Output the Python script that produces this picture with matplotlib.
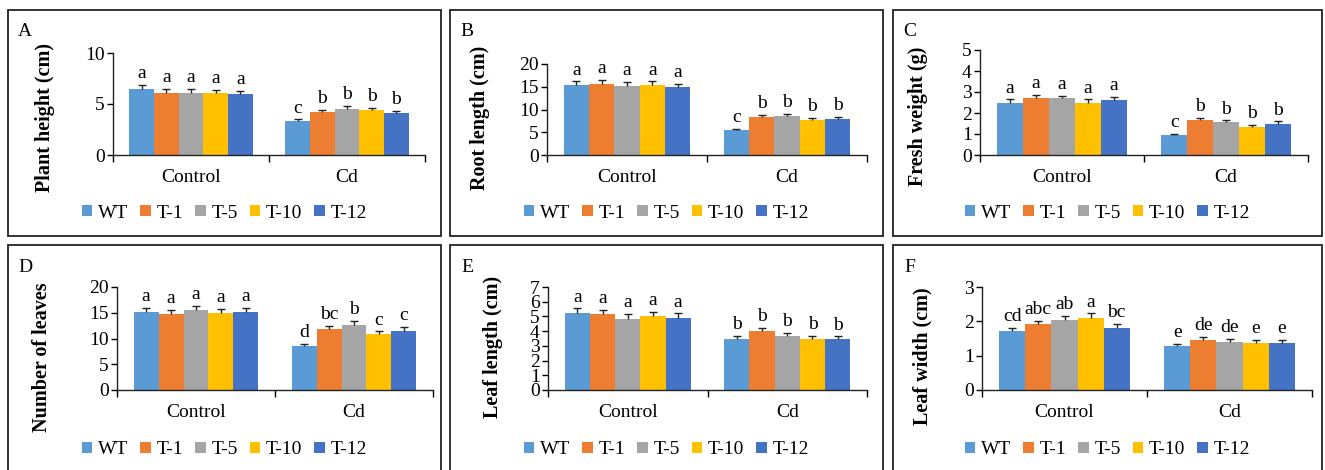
import matplotlib
matplotlib.use("Agg")
import matplotlib.pyplot as plt
from matplotlib.patches import Rectangle

plt.rcParams['font.family'] = ['Liberation Serif', 'DejaVu Serif']

W, H = 1325, 470

groups = ['Control', 'Cd']
lines = ['WT', 'T-1', 'T-5', 'T-10', 'T-12']
colors = ['#5B9BD5', '#ED7D31', '#A5A5A5', '#FFC000', '#4472C4']

# panel A - plant height
height_ctrl = [6.5, 6.1, 6.1, 6.05, 5.95]
height_cd = [3.3, 4.2, 4.5, 4.4, 4.1]
height_err_ctrl = [0.4, 0.35, 0.4, 0.35, 0.35]
height_err_cd = [0.2, 0.2, 0.3, 0.2, 0.2]
height_let_ctrl = ['a', 'a', 'a', 'a', 'a']
height_let_cd = ['c', 'b', 'b', 'b', 'b']

# panel B - root length
root_ctrl = [15.3, 15.6, 15.1, 15.4, 14.9]
root_cd = [5.4, 8.3, 8.6, 7.7, 7.9]
root_err_ctrl = [0.9, 0.9, 0.9, 0.8, 0.8]
root_err_cd = [0.3, 0.5, 0.5, 0.4, 0.5]
root_let_ctrl = ['a', 'a', 'a', 'a', 'a']
root_let_cd = ['c', 'b', 'b', 'b', 'b']

# panel C - fresh weight
fw_ctrl = [2.5, 2.7, 2.7, 2.5, 2.6]
fw_cd = [0.95, 1.65, 1.55, 1.35, 1.5]
fw_err_ctrl = [0.15, 0.15, 0.13, 0.15, 0.15]
fw_err_cd = [0.05, 0.12, 0.1, 0.08, 0.1]
fw_let_ctrl = ['a', 'a', 'a', 'a', 'a']
fw_let_cd = ['c', 'b', 'b', 'b', 'b']

# panel D - number of leaves
leaves_ctrl = [15.1, 14.8, 15.5, 14.9, 15.1]
leaves_cd = [8.5, 11.8, 12.7, 10.8, 11.5]
leaves_err_ctrl = [0.8, 0.8, 0.8, 0.8, 0.8]
leaves_err_cd = [0.5, 0.6, 0.7, 0.6, 0.7]
leaves_let_ctrl = ['a', 'a', 'a', 'a', 'a']
leaves_let_cd = ['d', 'bc', 'b', 'c', 'c']

# panel E - leaf length
ll_ctrl = [5.25, 5.15, 4.85, 5.0, 4.9]
ll_cd = [3.5, 4.0, 3.65, 3.5, 3.45]
ll_err_ctrl = [0.3, 0.28, 0.3, 0.3, 0.3]
ll_err_cd = [0.2, 0.22, 0.22, 0.2, 0.2]
ll_let_ctrl = ['a', 'a', 'a', 'a', 'a']
ll_let_cd = ['b', 'b', 'b', 'b', 'b']

# panel F - leaf width
lw_ctrl = [1.71, 1.92, 2.04, 2.11, 1.82]
lw_cd = [1.27, 1.47, 1.40, 1.37, 1.38]
lw_err_ctrl = [0.1, 0.1, 0.12, 0.12, 0.1]
lw_err_cd = [0.08, 0.08, 0.1, 0.08, 0.08]
lw_let_ctrl = ['cd', 'abc', 'ab', 'a', 'bc']
lw_let_cd = ['e', 'de', 'de', 'e', 'e']

panels = [
    ('A', 'Plant height (cm)', height_ctrl, height_cd, height_err_ctrl, height_err_cd,
     height_let_ctrl, height_let_cd, 10, 5),
    ('B', 'Root length (cm)', root_ctrl, root_cd, root_err_ctrl, root_err_cd,
     root_let_ctrl, root_let_cd, 20, 5),
    ('C', 'Fresh weight (g)', fw_ctrl, fw_cd, fw_err_ctrl, fw_err_cd,
     fw_let_ctrl, fw_let_cd, 5, 1),
    ('D', 'Number of leaves', leaves_ctrl, leaves_cd, leaves_err_ctrl, leaves_err_cd,
     leaves_let_ctrl, leaves_let_cd, 20, 5),
    ('E', 'Leaf length (cm)', ll_ctrl, ll_cd, ll_err_ctrl, ll_err_cd,
     ll_let_ctrl, ll_let_cd, 7, 1),
    ('F', 'Leaf width (cm)', lw_ctrl, lw_cd, lw_err_ctrl, lw_err_cd,
     lw_let_ctrl, lw_let_cd, 3, 1),
]

# pixel layout: box (l, t, r, b), axes (l, r, y0, ytop), ylabel centre (x, y), legend y
layout = [
    ((8, 10, 441, 236), (113, 425, 155, 53), (55, 118), 213),
    ((450, 10, 883, 236), (547, 867, 155, 64), (490, 118), 213),
    ((893, 10, 1322, 236), (980, 1308, 155, 50), (928, 116), 213),
    ((8, 245, 441, 480), (117, 433, 390, 287), (52, 357), 450),
    ((450, 245, 883, 480), (548, 867, 390, 287), (503, 347), 450),
    ((893, 245, 1322, 480), (982, 1312, 390, 287), (932, 356), 450),
]

fs = 14
bw = 0.158

fig = plt.figure(figsize=(W / 100, H / 100), dpi=100)

for (tag, ylab, vc, vd, ec, ed, lc, ld, ymax, step), (box, axp, labp, legy) in zip(panels, layout):
    bl, bt, br, bb = box
    fig.patches.append(Rectangle((bl / W, 1 - bb / H), (br - bl) / W, (bb - bt) / H,
                                 transform=fig.transFigure, fill=False,
                                 edgecolor='#222222', linewidth=1.3, zorder=0))
    fig.text((bl + 17) / W, 1 - (bt + 22) / H, tag, fontsize=fs, ha='center', va='center')

    al, ar, y0, yt = axp
    ax = fig.add_axes([al / W, 1 - y0 / H, (ar - al) / W, (y0 - yt) / H])
    handles = []
    for i in range(len(lines)):
        xs = [0 + (i - 2) * bw, 1 + (i - 2) * bw]
        vals = [vc[i], vd[i]]
        errs = [ec[i], ed[i]]
        b = ax.bar(xs, vals, width=bw, color=colors[i], yerr=[[0, 0], errs],
                   error_kw=dict(ecolor='#222222', elinewidth=1, capsize=3, capthick=1),
                   label=lines[i])
        # hide the lower caps, only the upper half of the error bar is shown
        caps = b.errorbar.lines[1]
        if len(caps) > 1:
            caps[0].set_visible(False)
        handles.append(b)
        for x, v, e, t in zip(xs, vals, errs, [lc[i], ld[i]]):
            ax.annotate(t, (x, v + e), xytext=(0, 2), textcoords='offset points',
                        ha='center', va='bottom', fontsize=fs)

    ax.set_xlim(-0.5, 1.5)
    ax.set_ylim(0, ymax)
    ax.set_yticks(range(0, ymax + 1, step))
    ax.set_xticks([0, 1])
    ax.set_xticklabels(groups)
    ax.set_xticks([-0.5, 0.5, 1.5], minor=True)
    ax.tick_params(axis='x', which='major', length=0, pad=10, labelsize=fs)
    ax.tick_params(axis='x', which='minor', length=5, width=1, direction='out')
    ax.tick_params(axis='y', length=4, width=1, direction='out', labelsize=fs, pad=2)
    for s in ['top', 'right']:
        ax.spines[s].set_visible(False)
    for s in ['left', 'bottom']:
        ax.spines[s].set_linewidth(1)
        ax.spines[s].set_color('#222222')
    ax.set_ylabel(ylab, fontsize=14.5, fontweight='bold')
    ax.yaxis.set_label_coords(labp[0] / W, 1 - labp[1] / H, transform=fig.transFigure)

    fig.legend(handles=handles, labels=lines, loc='center',
               bbox_to_anchor=((bl + br) / 2 / W, 1 - legy / H), ncol=5, frameon=False,
               fontsize=fs, handlelength=0.55, handleheight=0.55, handletextpad=0.3,
               columnspacing=0.6, borderaxespad=0, borderpad=0)

fig.savefig('out.png', dpi=100)
